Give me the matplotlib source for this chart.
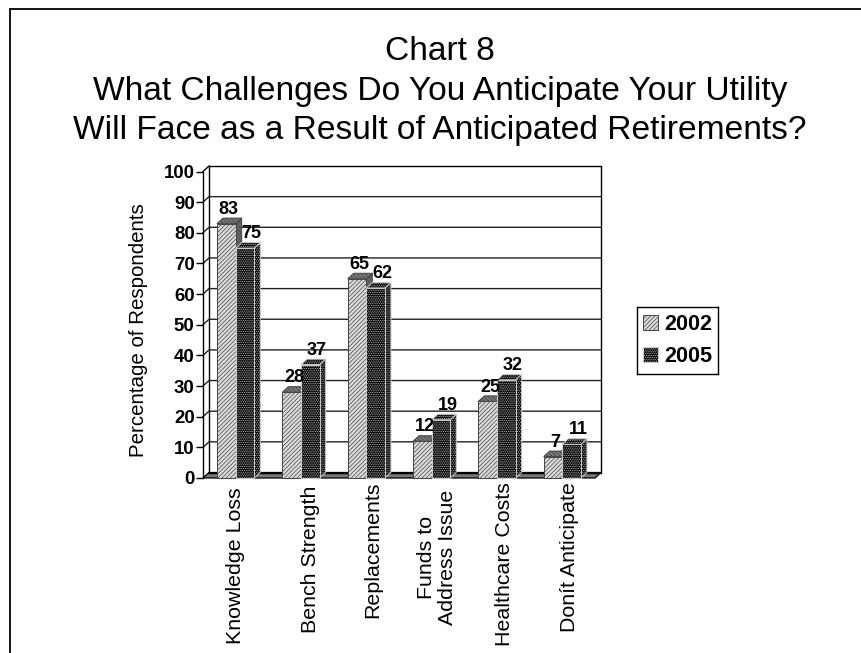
import matplotlib
matplotlib.use("Agg")
import matplotlib.pyplot as plt
from matplotlib.patches import Polygon, Rectangle
from matplotlib.lines import Line2D

plt.rcParams['font.family'] = ['Liberation Sans', 'DejaVu Sans']
plt.rcParams['hatch.linewidth'] = 0.5

categories = ["Knowledge Loss", "Bench Strength", "Replacements", "Funds to\nAddress Issue", "Healthcare Costs", "Donít Anticipate"]
series_names = ["2002", "2005"]
values_2002 = [83, 28, 65, 12, 25, 7]
values_2005 = [75, 37, 62, 19, 32, 11]
y_ticks = list(range(0, 101, 10))
title_lines = "Chart 8\nWhat Challenges Do You Anticipate Your Utility\nWill Face as a Result of Anticipated Retirements?"

W, H = 861, 653
fig = plt.figure(figsize=(W/100, H/100), dpi=100, facecolor='white')
# page frame: only the left and top edges are inside the crop
fig.add_artist(Line2D([9.8/W, 9.8/W, 1], [0, 1-8.5/H, 1-8.5/H], transform=fig.transFigure,
                      color='black', lw=1.3, solid_joinstyle='miter'))
L, R, B, T = 203, 595, 478, 171.5
ax = fig.add_axes([L/W, 1-B/H, (R-L)/W, (B-T)/H])
ax.set_xlim(0, 6)
ax.set_ylim(0, 100)
ax.patch.set_alpha(0)
for s in ['top', 'right', 'bottom']:
    ax.spines[s].set_visible(False)
ax.spines['left'].set_linewidth(1.0)

px_x = 6 / (R-L)      # x data units per px
px_y = 100 / (B-T)    # y data units per px
dx, dy = 6*px_x, 5.5*px_y

ax.add_patch(Polygon([(0, 0), (dx, dy), (6+dx, dy), (6, 0)], closed=True, facecolor='#777777',
                     edgecolor='black', lw=0.9, clip_on=False, zorder=1))
ax.plot([dx, dx, 6+dx, 6+dx, dx], [dy, 100+dy, 100+dy, dy, dy], color='black', lw=1.0, clip_on=False, zorder=1.5)
for t in y_ticks[1:-1]:
    ax.plot([0, dx, 6+dx], [t, t+dy, t+dy], color='#222222', lw=1.0, clip_on=False, zorder=1.5)
ax.plot([0, dx], [100, 100+dy], color='black', lw=1.0, clip_on=False, zorder=1.5)

def bar3d(x0, w, v, front, side, top, hatch_front, hatch_side, hatch_top, hc, z):
    ax.add_patch(Polygon([(x0+w, 0), (x0+w+dx, dy), (x0+w+dx, v+dy), (x0+w, v)], closed=True,
                         facecolor=side, edgecolor=hc, hatch=hatch_side, lw=0.7, clip_on=False, zorder=z))
    ax.add_patch(Polygon([(x0, v), (x0+dx, v+dy), (x0+w+dx, v+dy), (x0+w, v)], closed=True,
                         facecolor=top, edgecolor=hc, hatch=hatch_top, lw=0.7, clip_on=False, zorder=z))
    ax.add_patch(Rectangle((x0, 0), w, v, facecolor=front, edgecolor=hc, hatch=hatch_front,
                           lw=0.7, clip_on=False, zorder=z))

start, bw = 0.215, 0.285
for i, (a, b) in enumerate(zip(values_2002, values_2005)):
    bar3d(i+start, bw, a, '#dcdcdc', '#666666', '#777777', '////////', '\\\\\\\\\\\\\\\\', '\\\\\\\\\\\\\\\\', '#444444', 3+i)
    bar3d(i+start+bw, bw, b, 'black', 'black', 'black', '.........', '.........', '.........', '#cccccc', 3.5+i)
    ax.text(i+start+bw*0.5+2.5*px_x, a+dy+0.1, str(a), ha='center', va='bottom', fontsize=13, fontweight='bold', zorder=20)
    ax.text(i+start+bw*1.5+6.5*px_x, b+dy+0.1, str(b), ha='center', va='bottom', fontsize=13, fontweight='bold', zorder=20)

ax.set_yticks(y_ticks)
ax.set_yticklabels([str(t) for t in y_ticks], fontsize=13.4, fontweight='bold')
ax.tick_params(axis='y', length=5, width=1, pad=1)
ax.set_xticks([])
label_nudge_px = [0, 9, 6, 5, 7, 7]
label_top_px = [9, 8, 4, 12, 4, 4]
for i, c in enumerate(categories):
    ax.annotate(c, xy=(i+0.5, 0), xytext=(label_nudge_px[i]*0.72, -label_top_px[i]*0.72), textcoords='offset points',
                rotation=90, ha='center', va='top', fontsize=15.4, linespacing=1.12, multialignment='center')
ax.set_ylabel("Percentage of Respondents", fontsize=14.8)
ax.yaxis.set_label_coords(-0.14, 0.483)

fig.text(440/W, 1-36/H, title_lines, ha='center', va='top', fontsize=24.1, linespacing=1.36)

leg = fig.add_axes([637/W, 1-374/H, 81/W, 67/H])
leg.set_xlim(0, 81); leg.set_ylim(0, 67); leg.set_xticks([]); leg.set_yticks([])
for s in leg.spines.values():
    s.set_linewidth(1.0)
handles = [Rectangle((0, 0), 1, 1, facecolor='#dcdcdc', edgecolor='#444444', hatch='////////', lw=0.7),
           Rectangle((0, 0), 1, 1, facecolor='black', edgecolor='#cccccc', hatch='.........', lw=0.7)]
leg.patch.set_alpha(0)
leg.legend(handles, series_names, loc='center', frameon=False, prop={'size': 15.6, 'weight': 'bold'},
           handlelength=0.68, handleheight=0.7, handletextpad=0.28, labelspacing=0.5, borderaxespad=0, borderpad=0)
fig.savefig("out.png", dpi=100)
